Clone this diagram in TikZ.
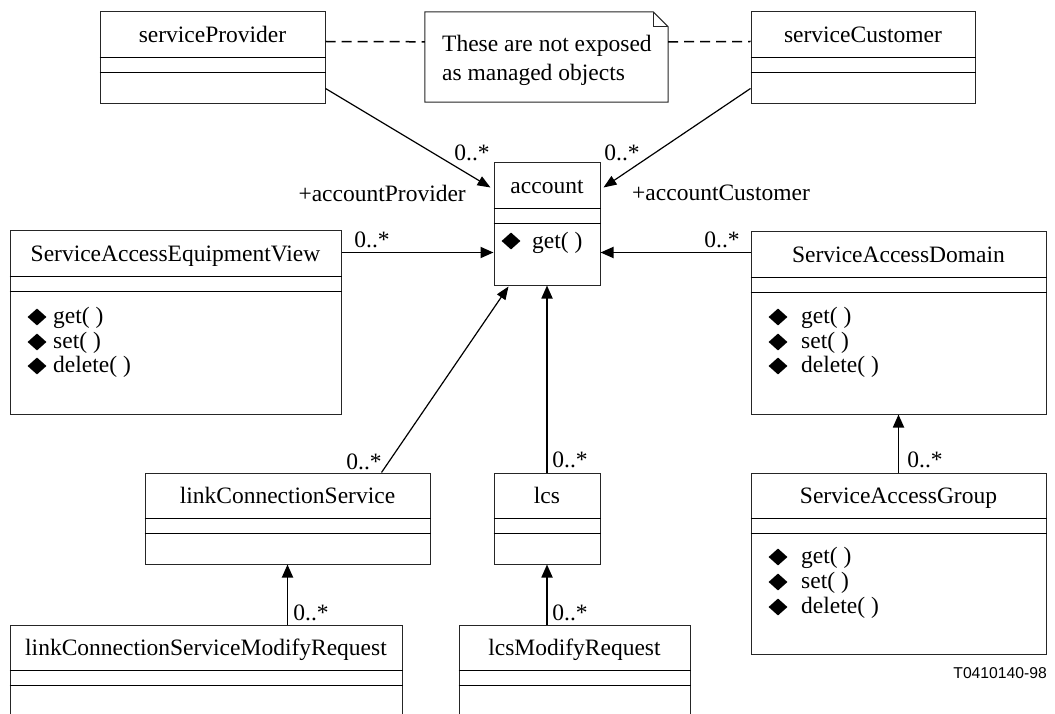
\documentclass[tikz,border=0pt]{standalone}
\usepackage{fontspec}
\setmainfont{Liberation Serif}
\newfontfamily\labelsans{Liberation Sans}
\usetikzlibrary{arrows.meta,fit,calc,shapes.geometric}

\newcommand\umlclass[6]{% name, x1, y1, x2, y2, title
  \node[cls, fit={(#2,#3)(#4,#5)}] (#1) {};
  \node[anchor=base] (#1-title) at ($(#1.north)+(0,31)$) {#6};
  \draw[divider] ([yshift=-46pt]#1.north west) -- ([yshift=-46pt]#1.north east);
  \draw[divider] ([yshift=-61pt]#1.north west) -- ([yshift=-61pt]#1.north east);
}
\newcommand\umlop[6]{% name, diamond x, diamond y, text x, text y, text
  \node[opmark] (#1-mark) at (#2,#3) {};
  \node[anchor=west] (#1) at (#4,#5) {#6};
}

\begin{document}
\begin{tikzpicture}[x=1pt,y=-1pt,
  every node/.style={font=\fontsize{23.5}{28}\selectfont, inner sep=0pt},
  cls/.style={draw=black!85, line width=1pt, inner sep=0pt, fill=white},
  divider/.style={line width=1.8pt},
  opmark/.style={fill=black, diamond, minimum width=19pt, minimum height=17pt, inner sep=0pt},
  assoc/.style={line width=1.8pt, -{Triangle[length=13pt,width=11pt]}},
  diag/.style={line width=1.2pt, -{Triangle[length=13pt,width=10pt]}},
  dashline/.style={line width=1.5pt, dash pattern=on 10pt off 6pt},
]
\useasboundingbox (0,0) rectangle (1055,714);
\fill[white] (0,0) rectangle (1055,714);
\clip (0,0) rectangle (1055,714);

% classes
\umlclass{sp}{100}{12}{325}{104}{serviceProvider}
\umlclass{sc}{751}{12}{975}{104}{serviceCustomer}
\umlclass{acc}{494}{163}{600}{285}{account}
\umlclass{saev}{10}{231}{341}{414}{ServiceAccessEquipmentView}
\umlclass{sad}{751}{232}{1046}{414}{ServiceAccessDomain}
\umlclass{lcssvc}{145}{473}{430}{564}{linkConnectionService}
\umlclass{lcs}{494}{473}{600}{564}{lcs}
\umlclass{sag}{751}{473}{1046}{654}{ServiceAccessGroup}
\umlclass{lcsmr}{10}{625}{402}{740}{linkConnectionServiceModifyRequest}
\umlclass{lcsmodr}{459}{625}{690}{740}{lcsModifyRequest}

% operations
\umlop{acc-get}{511}{241}{532}{243}{get( )}
\umlop{saev-get}{37}{317}{53}{318}{get( )}
\umlop{saev-set}{37}{342}{53}{343}{set( )}
\umlop{saev-del}{37}{366}{53}{367}{delete( )}
\umlop{sad-get}{778}{317}{801}{318}{get( )}
\umlop{sad-set}{778}{342}{801}{343}{set( )}
\umlop{sad-del}{778}{366}{801}{367}{delete( )}
\umlop{sag-get}{778}{557}{801}{558}{get( )}
\umlop{sag-set}{778}{582}{801}{583}{set( )}
\umlop{sag-del}{778}{607}{801}{608}{delete( )}

% note
\node[fit={(425,12)(668,102)}] (note) {};
\draw[line width=1pt, draw=black!85, fill=white] (note.north west) -- ([xshift=-15pt]note.north east) -- ([yshift=-15pt]note.north east) -- (note.south east) -- (note.south west) -- cycle;
\draw[line width=1pt, draw=black!85] ([xshift=-15pt]note.north east) |- ([yshift=-15pt]note.north east);
\node[anchor=base west] (note-l1) at (442,52) {These are not exposed};
\node[anchor=base west] (note-l2) at (442,81) {as managed objects};

\draw[dashline] ([yshift=-30pt]sp.north east) -- ([yshift=-30pt]note.north west);
\draw[dashline] ([yshift=-30pt]note.north east) -- ([yshift=-30pt]sc.north west);

% associations
\draw[diag] ([yshift=16pt]sp.south east) -- ([xshift=-3pt,yshift=-25pt]acc.north west);
\draw[diag] ([yshift=16pt]sc.south west) -- ([xshift=3pt,yshift=-25pt]acc.north east);
\coordinate (saev-out) at ([yshift=-22pt]saev.north east);
\draw[assoc] (saev-out) -- (saev-out -| acc.west);
\coordinate (sad-out) at ([yshift=-21pt]sad.north west);
\draw[assoc] (sad-out) -- (sad-out -| acc.east);
\draw[assoc] (lcs.north) -- (acc.south);
\draw[diag] ([xshift=-49pt]lcssvc.north east) -- ([xshift=15pt,yshift=-1pt]acc.south west);
\draw[assoc] (lcssvc.south |- lcsmr.north) -- (lcssvc.south);
\draw[assoc] (lcs.south |- lcsmodr.north) -- (lcs.south);
\draw[assoc] (sag.north) -- (sad.south);

% multiplicities and roles
\node (m-sp) at (472,153) {0..*};
\node (m-sc) at (622,153) {0..*};
\node[anchor=east] (r-prov) at (466,193) {+accountProvider};
\node[anchor=west] (r-cust) at (632,193) {+accountCustomer};
\node (m-saev) at (372,240) {0..*};
\node (m-sad) at (722,240) {0..*};
\node (m-lcssvc) at (364,462) {0..*};
\node (m-lcs) at (570,460) {0..*};
\node (m-sag) at (925,460) {0..*};
\node (m-lcsmr) at (311,613) {0..*};
\node (m-lcsmodr) at (570,613) {0..*};

\node[font=\labelsans\fontsize{15.7}{18}\selectfont, anchor=east] (fig-id) at (1047,673) {T0410140-98};
\end{tikzpicture}
\end{document}
